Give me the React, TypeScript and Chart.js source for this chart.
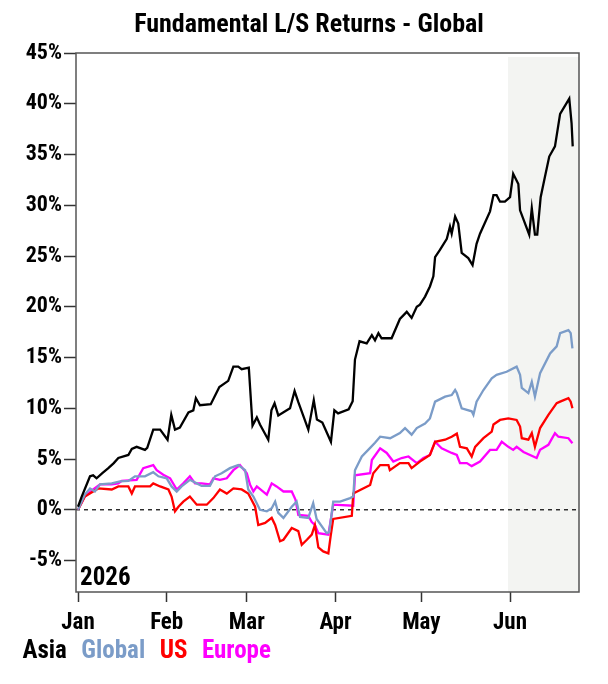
import { useEffect, useRef } from "react";
import { Chart, registerables } from "chart.js";

Chart.register(...registerables);

const TITLE = "Fundamental L/S Returns - Global";
const YEAR_LABEL = "2026";
const MONTH_LABELS = ["Jan", "Feb", "Mar", "Apr", "May", "Jun"];
const MONTH_DAYS = [0, 31, 59, 90, 120, 151];
const Y_TICKS = [-5, 0, 5, 10, 15, 20, 25, 30, 35, 40, 45];
const SERIES_NAMES = ["Asia", "Global", "US", "Europe"];
const SERIES_COLORS = ["#000000", "#7b9cc8", "#ff0000", "#ff00ff"];
const SHADE_START_DAY = 150.3;
const X_MIN = -0.7;
const X_MAX = 175.1;
const Y_MIN = -8.1;
const Y_MAX = 45;

// [day of year (Jan 1 = 0), cumulative return %]
const ASIA: [number, number][] = [
  [0, 0.3], [1.3, 1.3], [4.2, 3.3], [5.3, 3.4], [6.5, 3.1], [8.5, 3.6], [10.6, 4.1], [12.5, 4.6],
  [14.1, 5.1], [17.6, 5.4], [18.8, 6.0], [20.5, 6.2], [23.4, 5.9], [24.2, 6.1], [26.3, 7.9], [28.7, 7.9],
  [31.3, 6.9], [32.6, 9.35], [33.9, 7.9], [35.6, 8.1], [38.6, 9.6], [40.3, 9.8], [41.2, 11.0], [42.6, 10.3],
  [46.4, 10.4], [49.4, 12.1], [52.5, 12.7], [54.3, 14.1], [56, 14.1], [57.2, 13.85], [59.7, 14.0],
  [61, 8.3], [62.5, 9.1], [63.6, 8.4], [66.5, 6.9], [67.6, 9.8], [68.7, 10.5], [70, 9.3], [74.1, 10.0],
  [75.7, 11.7], [77, 10.6], [80.5, 7.9], [82.4, 10.8], [83.5, 8.9], [85.4, 8.6], [88.4, 6.7], [89.6, 9.8],
  [90.9, 9.5], [94.6, 9.9], [96, 10.7], [96.8, 14.8], [98.4, 16.6], [100.9, 16.4], [102.7, 17.2],
  [103.8, 16.7], [105, 17.4], [106.1, 16.9], [109.6, 16.9], [112.5, 18.8], [114.9, 19.5], [116.6, 18.9],
  [118.4, 20.0], [119.5, 20.2], [121.3, 21.0], [123, 22.0], [124.2, 23.0], [124.8, 24.9], [126.5, 25.6],
  [128.9, 26.7], [130, 27.9], [130.6, 27.2], [131.8, 28.9], [132.9, 28.2], [134.1, 25.3], [136.4, 24.8],
  [137.9, 24.1], [139.3, 26.2], [140.5, 27.2], [144, 29.4], [145.2, 31.0], [146.3, 31.0], [147.5, 30.35],
  [149.2, 30.35], [151, 30.8], [152.1, 33.1], [153.9, 32.1], [154.5, 29.5], [157.7, 27.1], [158.6, 29.7],
  [159.1, 28.5], [159.7, 27.1], [160.5, 27.1], [161.7, 30.8], [163.2, 32.8], [164.7, 34.8], [166.7, 35.8],
  [168.5, 39.0], [171.7, 40.5], [172.5, 38.1], [172.9, 35.8],
];

const GLOBAL: [number, number][] = [
  [0, 0], [2.4, 1.5], [4.2, 2.1], [5.9, 1.8], [7.7, 2.5], [11.8, 2.6], [14.7, 2.8], [17.6, 2.85],
  [19.9, 3.3], [23.4, 3.3], [26.3, 3.7], [28.1, 3.3], [31, 3.1], [32.7, 2.3], [34.5, 1.8], [36.2, 2.3],
  [39.1, 2.95], [41.5, 2.6], [43.2, 2.35], [46.1, 2.35], [47.9, 3.3], [50.2, 3.6], [53.1, 4.1], [56, 4.4],
  [58.4, 3.9], [59.5, 2.0], [61.3, 1.3], [63.6, 0], [66, -0.15], [67.7, 0.15], [68.9, 0.8], [70, -0.3],
  [71.8, -0.8], [74.7, 0.3], [76.4, 0.8], [77.6, -0.7], [80.5, -0.8], [82.2, 0.65], [83.4, -0.9],
  [86.9, -2.3], [87.8, -2.2], [89.2, 0.8], [91.6, 0.8], [95.1, 1.15], [96.2, 1.3], [96.8, 3.9],
  [99.2, 5.25], [102.1, 6.1], [103.8, 6.6], [105.6, 7.2], [109.1, 7.05], [112.5, 7.55], [114.3, 8.05],
  [116.6, 7.4], [118.4, 8.05], [121.3, 8.5], [123, 9.0], [124.8, 10.65], [128.3, 11.15], [130.6, 11.3],
  [131.8, 11.8], [132.4, 11.5], [134.1, 10.0], [137.6, 9.7], [138.2, 9.35], [139.3, 10.65], [141.7, 11.8],
  [144.6, 12.95], [146.3, 13.3], [149.8, 13.6], [153.3, 14.1], [154.5, 13.3], [155.1, 12.0], [157.4, 11.5],
  [158.6, 12.6], [159.7, 11.15], [161.5, 13.45], [165, 15.4], [167.3, 16.1], [168.5, 17.4], [171.4, 17.7],
  [172.2, 17.4], [172.8, 15.9],
];

const US: [number, number][] = [
  [0, 0], [2.4, 1.3], [5.3, 1.8], [7.1, 2.1], [11.8, 2.0], [14.1, 2.3], [17.6, 2.3], [18.8, 1.6],
  [19.9, 2.3], [25.2, 2.3], [26.3, 2.6], [28.7, 2.3], [31.6, 2.0], [32.7, 1.3], [33.9, -0.15], [35.1, 0.3],
  [36.8, 0.8], [39.1, 1.3], [41.5, 0.5], [45, 0.5], [47.3, 1.15], [49.6, 2.0], [52, 1.6], [54.3, 2.1],
  [57.2, 2.0], [59.5, 1.6], [61.9, 0.3], [63, -1.5], [65.4, -1.3], [67.7, -0.8], [68.9, -1.5], [70.6, -3.1],
  [71.8, -2.95], [74.7, -1.8], [77, -2.1], [78.2, -3.45], [80, -2.95], [81.7, -2.45], [82.8, -1.5],
  [84, -3.7], [85.7, -4.1], [87.5, -4.3], [88.3, -2.6], [89.2, -0.9], [95.7, -0.6], [96.2, 1.6],
  [102.1, 2.45], [103.2, 3.6], [105.6, 4.4], [108.5, 4.4], [109, 3.9], [112.5, 4.6], [115.5, 4.6],
  [116.6, 4.1], [119.5, 4.75], [123, 5.4], [124.8, 6.7], [128.3, 6.9], [130.6, 7.2], [132.4, 7.5],
  [133.5, 6.2], [135.9, 6.05], [137.6, 5.25], [138.8, 6.2], [141.7, 7.05], [144.6, 7.7], [145.2, 8.4],
  [147.5, 8.85], [150.4, 9.0], [153.3, 8.85], [154.5, 8.2], [155.1, 7.05], [157.4, 6.9], [158.6, 7.55],
  [159.7, 6.2], [161.5, 8.05], [164.4, 9.35], [167.3, 10.5], [168.5, 10.65], [171.4, 11.0], [172.2, 10.65],
  [172.8, 10.0],
];

const EUROPE: [number, number][] = [
  [0, 0], [2.4, 1.3], [5.3, 2.0], [7.7, 2.5], [11.8, 2.5], [14.1, 2.6], [15.3, 2.85], [20.5, 2.95],
  [22.8, 4.1], [26.3, 4.4], [27.5, 3.9], [29.8, 3.45], [32.2, 3.1], [34.5, 2.0], [36.8, 2.6], [39.1, 3.3],
  [40.9, 2.6], [43.2, 2.6], [46.1, 2.5], [47.3, 3.1], [49.6, 2.95], [52, 3.1], [54.3, 3.9], [56.6, 4.4],
  [59, 3.6], [60.1, 2.5], [61.3, 1.8], [62.5, 2.3], [66, 1.5], [67.7, 2.6], [69.4, 2.3], [71.8, 1.8],
  [74.7, 1.8], [76, 1.0], [77, -0.5], [80.5, -0.6], [81.7, -1.2], [82.8, -1.5], [84, -2.3], [87.5, -2.45],
  [89.2, 0.5], [96.2, 0.4], [96.8, 3.4], [102.1, 3.6], [102.7, 4.9], [105.6, 6.05], [107.9, 5.6],
  [110.2, 4.75], [113.1, 5.1], [115.5, 5.25], [118.4, 4.6], [120.7, 5.1], [123, 5.4], [124.8, 6.7],
  [127.1, 6.05], [130.6, 5.6], [132.4, 5.4], [133.5, 4.6], [135.9, 4.6], [137.6, 4.3], [140.5, 4.75],
  [144, 5.9], [146.3, 5.9], [148.1, 6.7], [150.4, 6.2], [152.1, 5.9], [153.3, 6.2], [155.7, 5.7],
  [160.3, 5.1], [161.5, 5.9], [164.4, 6.4], [166.7, 7.55], [167.9, 7.2], [171.4, 7.05], [172.8, 6.55],
];

const SERIES_DATA = [ASIA, GLOBAL, US, EUROPE];

const FONT = "'Roboto Condensed', 'Roboto', sans-serif";
const WEIGHT = "bold semi-condensed";

const decorPlugin = {
  id: "decor",
  beforeDatasetsDraw(chart: any) {
    const { ctx, chartArea, scales } = chart;
    const x = scales.x;
    const y = scales.y;
    ctx.save();
    // shaded recent period
    const sx = x.getPixelForValue(SHADE_START_DAY);
    ctx.fillStyle = "#f3f4f2";
    ctx.fillRect(sx, chartArea.top + 4, chartArea.right - sx, chartArea.bottom - chartArea.top - 4);
    // zero line
    const zy = y.getPixelForValue(0);
    ctx.strokeStyle = "#000000";
    ctx.lineWidth = 1.2;
    ctx.setLineDash([4, 4]);
    ctx.beginPath();
    ctx.moveTo(chartArea.left, zy);
    ctx.lineTo(chartArea.right, zy);
    ctx.stroke();
    ctx.restore();
  },
  afterDatasetsDraw(chart: any) {
    const { ctx, chartArea } = chart;
    ctx.save();
    ctx.strokeStyle = "#555555";
    ctx.lineWidth = 1.5;
    ctx.strokeRect(chartArea.left, chartArea.top, chartArea.right - chartArea.left, chartArea.bottom - chartArea.top);
    ctx.fillStyle = "#000000";
    ctx.font = `${WEIGHT} 25px ${FONT}`;
    ctx.textAlign = "left";
    ctx.textBaseline = "alphabetic";
    ctx.fillText(YEAR_LABEL, chartArea.left + 4, chartArea.bottom - 7);
    // title
    ctx.font = `${WEIGHT} 26px ${FONT}`;
    ctx.textAlign = "center";
    ctx.fillText(TITLE, 301, 24);
    ctx.restore();
  },
};

export default function App() {
  const ref = useRef<HTMLCanvasElement | null>(null);

  useEffect(() => {
    if (!ref.current) return;
    const chart = new Chart(ref.current, {
      type: "line",
      data: {
        datasets: SERIES_NAMES.map((name, i) => ({
          label: name,
          data: SERIES_DATA[i].map(([x, y]) => ({ x, y })),
          borderColor: SERIES_COLORS[i],
          backgroundColor: SERIES_COLORS[i],
          borderWidth: 2.3,
          pointRadius: 0,
          tension: 0,
          fill: false,
        })),
      },
      options: {
        animation: false,
        responsive: false,
        layout: { padding: { top: 45, right: 21, left: 0, bottom: 2 } },
        scales: {
          x: {
            type: "linear",
            min: X_MIN,
            max: X_MAX,
            afterFit: (s: any) => {
              s.height = 45;
            },
            afterBuildTicks: (s: any) => {
              s.ticks = MONTH_DAYS.map((v) => ({ value: v }));
            },
            ticks: {
              autoSkip: false,
              maxRotation: 0,
              padding: 7,
              color: "#000",
              font: { family: FONT, size: 23, weight: WEIGHT },
              callback: (v: any) => {
                const i = MONTH_DAYS.indexOf(Number(v));
                return i >= 0 ? MONTH_LABELS[i] : "";
              },
            },
            grid: {
              drawOnChartArea: false,
              drawTicks: true,
              tickLength: 10,
              tickColor: "#333",
              tickWidth: 1.5,
            },
            border: { display: false },
          },
          y: {
            type: "linear",
            min: Y_MIN,
            max: Y_MAX,
            afterFit: (s: any) => {
              s.width = 68;
            },
            afterBuildTicks: (s: any) => {
              s.ticks = Y_TICKS.map((v) => ({ value: v }));
            },
            ticks: {
              padding: 2,
              color: "#000",
              font: { family: FONT, size: 22, weight: WEIGHT },
              callback: (v: any) => `${v}%`,
            },
            grid: {
              drawOnChartArea: false,
              drawTicks: true,
              tickLength: 12,
              tickColor: "#333",
              tickWidth: 1.5,
            },
            border: { display: false },
          },
        },
        plugins: {
          title: { display: false },
          legend: {
            display: true,
            position: "bottom",
            align: "start",
            labels: {
              boxWidth: 0,
              boxHeight: 0,
              padding: 2,
              font: { family: FONT, size: 25, weight: WEIGHT },
              generateLabels: (c: any) =>
                c.data.datasets.map((ds: any, i: number) => ({
                  text: ds.label,
                  fontColor: SERIES_COLORS[i],
                  fillStyle: "rgba(0,0,0,0)",
                  strokeStyle: "rgba(0,0,0,0)",
                  lineWidth: 0,
                  hidden: false,
                  datasetIndex: i,
                })),
            },
          },
          tooltip: { enabled: false },
        },
      },
      plugins: [decorPlugin],
    } as any);
    return () => chart.destroy();
  }, []);

  return (
    <div style={{ width: 592, height: 668 }}>
      <canvas ref={ref} width={592} height={668} />
    </div>
  );
}
